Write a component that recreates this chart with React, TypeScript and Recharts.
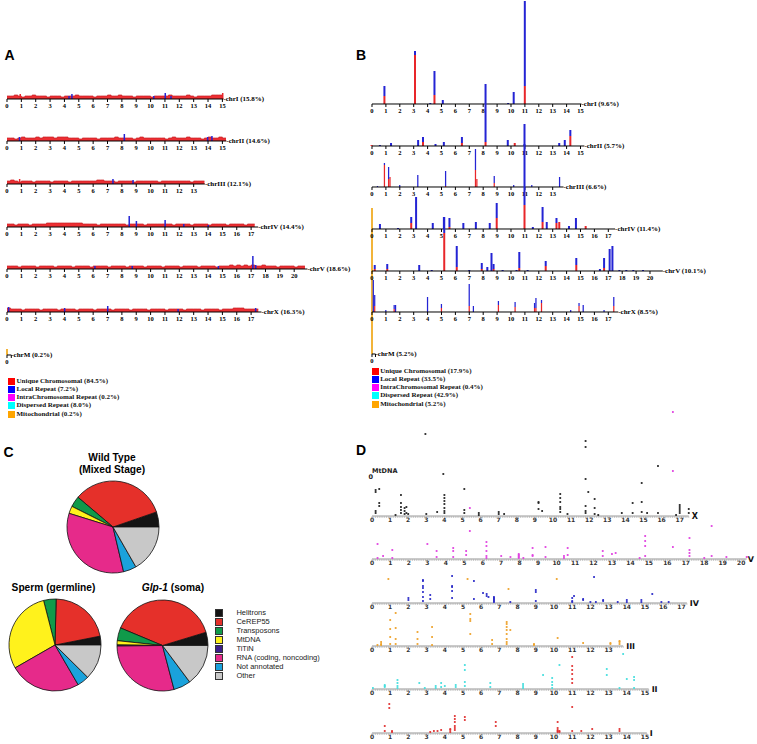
import React from 'react';
import { ComposedChart, Bar, Area, XAxis, YAxis, ReferenceDot, ScatterChart, Scatter, PieChart, Pie, Cell } from 'recharts';

const SERIF = '"Liberation Serif", "Times New Roman", serif';
const SANS = '"Liberation Sans", Arial, sans-serif';
const DSANS = '"DejaVu Sans", sans-serif';

const RED = '#e8262a';
const BLUE = '#2424d4';
const MITO = '#f2b43a';

// ---------- Panel A data ----------
const chromLen = [15.07, 15.28, 13.78, 17.49, 20.92, 17.72];
const aLabels = ['chrI (15.8%)', 'chrII (14.6%)', 'chrIII (12.1%)', 'chrIV (14.4%)', 'chrV (18.6%)', 'chrX (16.3%)'];
const aBandI = '3343233433323332333433332333433433323333233334333343233334443';
const aBandII = '33234333434443444333233332333343333234333333234333433323433433';
const aBandIII = '34323332333323333233333334433323333233333323333333323333';
const aBandIV = '3323332333344444444443333233333332333323333333233332333323333233332333';
const aBandV = '333233332333323333233332333323333233332333323333233332333323334343434334333233332333';
const aBandX = '43332333323333233332333323333233332333323333233332333323333233344433333';
const aSpikeI = [{ pos: 0.9, red: 5, blue: 0 }, { pos: 4.3, red: 0, blue: 3 }, { pos: 4.5, red: 0, blue: 5 }, { pos: 10.2, red: 0, blue: 3 }, { pos: 11, red: 0, blue: 6 }, { pos: 11.4, red: 0, blue: 3 }, { pos: 15, red: 6, blue: 0 }];
const aSpikeII = [{ pos: 0.9, red: 0, blue: 4 }, { pos: 8.2, red: 0, blue: 7 }, { pos: 14, red: 0, blue: 4 }, { pos: 14.3, red: 0, blue: 5 }];
const aSpikeIII = [{ pos: 0.9, red: 5, blue: 0 }, { pos: 7.4, red: 0, blue: 5 }, { pos: 8.8, red: 0, blue: 4 }];
const aSpikeIV = [{ pos: 8.5, red: 0, blue: 11 }, { pos: 9, red: 0, blue: 6 }, { pos: 11, red: 0, blue: 7 }, { pos: 12.3, red: 0, blue: 3 }, { pos: 14, red: 0, blue: 2 }];
const aSpikeV = [{ pos: 6.1, red: 0, blue: 3 }, { pos: 8.7, red: 0, blue: 3 }, { pos: 14.7, red: 0, blue: 3 }, { pos: 17.1, red: 0, blue: 13 }, { pos: 17.3, red: 0, blue: 4 }, { pos: 17.7, red: 3, blue: 0 }];
const aSpikeX = [{ pos: 0.1, red: 0, blue: 5 }, { pos: 4, red: 0, blue: 4 }, { pos: 7, red: 0, blue: 6 }, { pos: 11.9, red: 0, blue: 3 }, { pos: 17.3, red: 0, blue: 4 }];
const aMito = [{ pos: 0, mito: 6 }];

// ---------- Panel B data ----------
const bLabels = ['chrI (9.6%)', 'chrII (5.7%)', 'chrIII (6.6%)', 'chrIV (11.4%)', 'chrV (10.1%)', 'chrX (8.5%)'];
const bBarsI = [{ pos: 0.9, red: 8, blue: 10 }, { pos: 3.1, red: 49, blue: 4 }, { pos: 4.2, red: 0, blue: 1 }, { pos: 4.5, red: 9, blue: 24 }, { pos: 5.1, red: 0, blue: 4 }, { pos: 9.8, red: 0, blue: 1 }, { pos: 10.2, red: 0, blue: 12 }, { pos: 11, red: 18, blue: 85 }];
const bBarsII = [{ pos: 0, red: 1, blue: 0 }, { pos: 0.6, red: 0, blue: 1 }, { pos: 1.4, red: 0, blue: 3 }, { pos: 3.35, red: 0, blue: 6 }, { pos: 3.7, red: 4, blue: 5 }, { pos: 4.6, red: 0, blue: 2 }, { pos: 5.2, red: 0, blue: 4 }, { pos: 6.5, red: 3, blue: 6 }, { pos: 8.2, red: 4, blue: 58 }, { pos: 9.8, red: 0, blue: 6 }, { pos: 10.3, red: 3, blue: 0 }, { pos: 11, red: 0, blue: 2 }, { pos: 13.5, red: 0, blue: 3 }, { pos: 13.9, red: 0, blue: 6 }, { pos: 14.3, red: 10, blue: 6 }];
const bBarsIII = [{ pos: 0.4, red: 0, blue: 1 }, { pos: 0.9, red: 22, blue: 2 }, { pos: 1.2, red: 8, blue: 12 }, { pos: 1.3, red: 10, blue: 0 }, { pos: 2, red: 0, blue: 2 }, { pos: 3.3, red: 0, blue: 12 }, { pos: 5.3, red: 1, blue: 15 }, { pos: 7.45, red: 17, blue: 21 }, { pos: 7.55, red: 8, blue: 0 }, { pos: 8.8, red: 4, blue: 7 }, { pos: 10.2, red: 0, blue: 2 }, { pos: 11.5, red: 0, blue: 2 }, { pos: 13.5, red: 0, blue: 10 }];
const bBarsIV = [{ pos: 0.6, red: 0, blue: 5 }, { pos: 1.9, red: 0, blue: 1 }, { pos: 2.85, red: 6, blue: 6 }, { pos: 3.2, red: 0, blue: 32 }, { pos: 4.4, red: 0, blue: 6 }, { pos: 5.2, red: 0, blue: 12 }, { pos: 5.6, red: 2, blue: 9 }, { pos: 6.6, red: 0, blue: 6 }, { pos: 7.5, red: 0, blue: 7 }, { pos: 8.5, red: 0, blue: 6 }, { pos: 9, red: 11, blue: 15 }, { pos: 11, red: 24, blue: 81 }, { pos: 11.6, red: 0, blue: 2 }, { pos: 12.3, red: 7, blue: 15 }, { pos: 12.6, red: 0, blue: 7 }, { pos: 13.3, red: 6, blue: 5 }, { pos: 13.5, red: 7, blue: 0 }, { pos: 14.2, red: 0, blue: 3 }, { pos: 14.7, red: 0, blue: 11 }, { pos: 15.4, red: 3, blue: 0 }];
const bBarsV = [{ pos: 0.2, red: 2, blue: 4 }, { pos: 1.1, red: 2, blue: 5 }, { pos: 3.4, red: 0, blue: 6 }, { pos: 4.3, red: 0, blue: 1 }, { pos: 5.2, red: 38, blue: 16 }, { pos: 6.1, red: 4, blue: 21 }, { pos: 7, red: 0, blue: 1 }, { pos: 7.9, red: 2, blue: 6 }, { pos: 8.3, red: 0, blue: 4 }, { pos: 8.6, red: 0, blue: 18 }, { pos: 8.75, red: 2, blue: 5 }, { pos: 9.4, red: 0, blue: 1 }, { pos: 10.4, red: 0, blue: 1 }, { pos: 10.6, red: 3, blue: 16 }, { pos: 11.2, red: 0, blue: 1 }, { pos: 12.5, red: 5, blue: 5 }, { pos: 14.7, red: 6, blue: 7 }, { pos: 16.4, red: 0, blue: 2 }, { pos: 16.7, red: 3, blue: 10 }, { pos: 17.1, red: 0, blue: 22 }, { pos: 17.3, red: 0, blue: 25 }, { pos: 17.8, red: 0, blue: 1 }, { pos: 18.3, red: 0, blue: 1 }, { pos: 18.8, red: 0, blue: 1 }, { pos: 19.5, red: 0, blue: 1 }];
const bBarsX = [{ pos: 0.1, red: 0, blue: 32 }, { pos: 0.2, red: 6, blue: 11 }, { pos: 1, red: 0, blue: 2 }, { pos: 1.6, red: 3, blue: 4 }, { pos: 1.7, red: 0, blue: 7 }, { pos: 4, red: 0, blue: 15 }, { pos: 5, red: 4, blue: 4 }, { pos: 7, red: 6, blue: 22 }, { pos: 7.3, red: 0, blue: 6 }, { pos: 9.1, red: 7, blue: 4 }, { pos: 10.3, red: 5, blue: 5 }, { pos: 11.7, red: 4, blue: 5 }, { pos: 11.8, red: 4, blue: 10 }, { pos: 12.2, red: 9, blue: 3 }, { pos: 14.3, red: 0, blue: 2 }, { pos: 14.9, red: 6, blue: 3 }, { pos: 15.2, red: 0, blue: 7 }, { pos: 16.7, red: 0, blue: 2 }, { pos: 17.4, red: 6, blue: 9 }];
const bMito = [{ pos: 0, mito: 146 }];

const legendColors = ['#ff0000', '#0000ff', '#ff00ff', '#00ffff', '#ffa500'];
const aLegend = ['Unique Chromosomal (84.5%)', 'Local Repeat (7.2%)', 'IntraChromosomal Repeat (0.2%)', 'Dispersed Repeat (8.0%)', 'Mitochondrial (0.2%)'];
const bLegend = ['Unique Chromosomal (17.9%)', 'Local Repeat (33.5%)', 'IntraChromosomal Repeat (0.4%)', 'Dispersed Repeat (42.9%)', 'Mitochondrial (5.2%)'];

// ---------- Panel C data ----------
const pieCategories = ['Helitrons', 'CeREP55', 'Transposons', 'MtDNA', 'TiTiN', 'RNA (coding, noncoding)', 'Not annotated', 'Other'];
const pieColors = ['#141414', '#e5302a', '#109a4a', '#fff21c', '#3b1f8c', '#e62a8a', '#1aa2dc', '#c8c8c8'];
const wildType = [5.3, 33.5, 3.8, 2.6, 0, 33.5, 4.6, 16.7];
const sperm = [3.1, 21.5, 4.4, 29.3, 0, 25.1, 4.2, 12.4];
const glp1 = [4.7, 39.0, 4.6, 1.5, 0.4, 28.9, 6.1, 14.8];

// ---------- Panel D data ([position Mb, heights]) ----------
const dX: [number, number[]][] = [[0.2, [26, 24, 5, 3]], [0.4, [27, 13, 10]], [1.3, [1]], [1.6, [21, 13, 9, 6, 3]], [1.8, [8, 5, 2]], [1.9, [9, 3]], [2.0, [2]], [2.95, [82]], [3.0, [2]], [3.6, [4]], [3.94, [42]], [4.0, [21, 18, 15, 12, 8, 5, 3]], [5.1, [27, 6, 3]], [5.9, [3, 1]], [7.0, [4, 2]], [7.3, [2]], [9.2, [14, 13, 7]], [9.4, [5]], [10.4, [22, 18, 14, 9, 7, 4]], [10.8, [2]], [11.8, [75, 69, 37, 10, 5, 3]], [11.95, [24]], [12.3, [17, 8, 2]], [12.5, [1]], [13.8, [3]], [14.4, [13, 3]], [14.9, [33, 14, 4]], [15.2, [3]], [15.8, [50, 3]], [16.8, [1]], [17.0, [11, 9, 7, 5, 3]], [17.5, [7, 3]]];
const dV: [number, number[]][] = [[0.3, [15, 1]], [0.6, [3]], [1.1, [9, 1]], [3.0, [15]], [3.5, [8, 2]], [4.4, [11, 8, 2]], [5.1, [8, 4]], [5.3, [51, 28]], [6.2, [17, 13, 8, 3, 1]], [7.0, [3]], [7.5, [2]], [7.95, [5, 4, 3, 2, 1]], [8.2, [1]], [8.7, [11, 4, 3]], [9.4, [12, 2]], [10.4, [3, 1]], [10.6, [11, 4]], [12.5, [8, 3]], [13.0, [5]], [13.2, [6]], [14.5, [1]], [14.8, [23, 18, 13, 3]], [16.3, [147, 88, 12]], [17.2, [21, 9, 6, 3]], [18.0, [1]], [18.4, [33, 3]], [19.2, [2]], [20.3, [2]]];
const dIV: [number, number[]][] = [[2.0, [5, 3]], [2.8, [23, 22, 17, 15, 11, 6, 2]], [3.2, [8, 4]], [4.4, [27, 17, 16, 12, 5]], [5.6, [22, 4]], [6.1, [10]], [6.3, [9, 7]], [6.4, [6]], [6.7, [6, 5, 4, 3, 2, 1]], [7.6, [1]], [9.0, [13, 11, 2]], [11.0, [5, 2, 1]], [11.1, [7]], [11.6, [4, 3]], [12.0, [1]], [12.2, [26]], [12.3, [1]], [12.7, [3, 2]], [13.5, [1]], [14.0, [3, 1]], [14.8, [3, 1]], [15.4, [9]], [15.9, [1]], [16.3, [1]]];
const dIII: [number, number[]][] = [[0.3, [1]], [0.5, [4, 2, 1]], [0.9, [67]], [1.0, [26, 17, 9, 2]], [1.3, [33, 18, 7, 2]], [2.5, [14, 7, 2]], [3.3, [19, 9, 1]], [5.25, [67]], [5.4, [32, 27, 25, 12]], [6.6, [6, 2]], [7.4, [24, 22, 19, 16, 12, 7, 4, 2]], [7.5, [57]], [7.6, [16]], [8.9, [2, 1]], [10.15, [67]], [10.2, [8]], [11.6, [3]], [13.1, [3, 2]], [13.6, [5, 4, 2]]];
const dII: [number, number[]][] = [[0.05, [1]], [0.7, [4, 3, 2]], [1.4, [9, 6, 3, 1]], [2.6, [6]], [2.9, [1]], [3.5, [3, 1]], [3.8, [6, 2]], [4.0, [3]], [4.6, [4, 2]], [5.1, [24, 19, 7, 3]], [6.5, [6, 2]], [8.3, [5, 3, 1]], [9.4, [14]], [9.9, [11, 7, 4, 1]], [10.3, [24]], [12.9, [20, 14]], [13.6, [1]], [13.8, [35]], [14.0, [10]], [14.4, [12, 9, 1]]];
const dI: [number, number[]][] = [[0.7, [7, 2]], [0.95, [29, 25]], [1.1, [2, 1]], [3.2, [1]], [3.4, [2]], [3.6, [2]], [3.8, [3]], [4.3, [4, 3, 1]], [4.55, [17, 14, 11, 7, 5, 3]], [5.1, [16, 13]], [6.8, [11, 7]], [10.2, [11, 5, 3, 2, 1]], [10.3, [2, 1]], [11.0, [76, 67, 63, 59, 54, 50, 26, 2]], [11.5, [2]], [12.1, [4]], [13.6, [4, 2]]];
const dNames = ['X', 'V', 'IV', 'III', 'II', 'I'];
const dLens = [17.5, 20.2, 17.3, 13.8, 15.2, 15.1];
const dColors = ['#222222', '#e040e0', '#2a2ac8', '#eea22a', '#44dede', '#e03030'];

// ---------- helpers ----------
const bandData = (s: string, len: number) =>
  s.split('').map((c, i) => ({ pos: i * 0.25, band: Number(c) })).filter((d) => d.pos <= len);
const intTicks = (len: number) => {
  const t: number[] = [];
  for (let i = 0; i <= Math.floor(len); i++) t.push(i);
  return t;
};
const minorTicks = (len: number) => {
  const t: number[] = [];
  for (let i = 0; i <= Math.floor(len * 10 + 1e-6); i++) t.push(i / 10);
  return t;
};
const flatPts = (arr: [number, number[]][]) => arr.flatMap(([pos, hs]) => hs.map((h) => ({ pos, h })));

type BarSpec = { key: string; color: string; size: number };

function BarTrack(props: {
  x0: number; axisY: number; ppm: number; len: number; H: number; data: any[]; bars: BarSpec[];
  ticks: number[]; label?: string; showAxis: boolean; band?: boolean;
}) {
  const { x0, axisY, ppm, len, H, data, bars, ticks, label, showAxis, band } = props;
  const L = 8, R = 80, AX = 14;
  const w = L + len * ppm + R;
  const h = H + AX;
  return (
    <div style={{ position: 'absolute', left: x0 - L, top: axisY - H, width: w, height: h }}>
      <ComposedChart width={w} height={h} data={data} margin={{ top: 0, right: R, left: L, bottom: 0 }}>
        <XAxis
          type="number" dataKey="pos" domain={[0, len]} ticks={ticks} interval={0} height={AX} stroke="#000"
          axisLine={showAxis ? { stroke: '#000', strokeWidth: 1 } : false}
          tickLine={showAxis ? { stroke: '#000', strokeWidth: 1 } : false}
          tick={showAxis ? { fontSize: 6.5, fontFamily: SERIF, fontWeight: 700, fill: '#000' } : false}
          tickSize={3} tickMargin={1.5}
          tickFormatter={(v: number) => (Number.isInteger(v) ? String(v) : '')}
        />
        <YAxis hide type="number" domain={[0, H]} allowDataOverflow />
        {band ? (
          <Area type="stepAfter" dataKey="band" fill="#ec2f33" fillOpacity={1} stroke="#c81e22" strokeWidth={0.7} isAnimationActive={false} />
        ) : null}
        {bars.map((b) => (
          <Bar key={b.key} dataKey={b.key} stackId="s" fill={b.color} barSize={b.size} isAnimationActive={false} />
        ))}
        {label ? (
          <ReferenceDot x={len} y={0} r={0} fill="none" stroke="none" ifOverflow="visible"
            label={{ value: label, position: 'right', offset: 0, fill: '#000', fontSize: 7, fontFamily: SERIF, fontWeight: 700 }} />
        ) : null}
      </ComposedChart>
    </div>
  );
}

const DTick = (props: any) => {
  const { x, y, payload } = props;
  const v = payload.value;
  if (Math.abs(v - Math.round(v)) > 1e-6) return <g />;
  return (
    <text x={x} y={y} dy="0.71em" textAnchor="middle" fontSize={6} fontWeight={700} fontFamily={DSANS} fill="#333">
      {Math.round(v)}
    </text>
  );
};

function DotTrack(props: { axisY: number; ppm: number; len: number; pts: { pos: number; h: number }[]; color: string; name: string }) {
  const { axisY, ppm, len, pts, color, name } = props;
  const x0 = 371.7;
  const L = 8, R = 30, AX = 10, H = 150;
  const w = L + len * ppm + R;
  const h = H + AX;
  return (
    <div style={{ position: 'absolute', left: x0 - L, top: axisY - H, width: w, height: h }}>
      <ScatterChart width={w} height={h} margin={{ top: 0, right: R, left: L, bottom: 0 }}>
        <XAxis type="number" dataKey="pos" domain={[0, len]} ticks={minorTicks(len)} interval={0} height={AX}
          axisLine={{ stroke: '#9a9a9a', strokeWidth: 1 }} tickLine={{ stroke: '#a8a8a8', strokeWidth: 0.6 }}
          tickSize={2} tickMargin={0} tick={<DTick />} />
        <YAxis hide type="number" dataKey="h" domain={[0, H]} allowDataOverflow />
        <Scatter data={pts} fill={color} isAnimationActive={false}
          shape={(p: any) => <rect x={p.cx - 0.9} y={p.cy - 0.9} width={1.8} height={1.8} fill={color} />} />
        <ReferenceDot x={len} y={0} r={0} fill="none" stroke="none" ifOverflow="visible"
          label={{ value: name, position: 'right', offset: 3, fill: '#111', fontSize: 8, fontFamily: DSANS, fontWeight: 700 }} />
      </ScatterChart>
    </div>
  );
}

function PieBlock(props: { cx: number; cy: number; r: number; values: number[] }) {
  const { cx, cy, r, values } = props;
  const data = values.map((v, i) => ({ name: pieCategories[i], value: v }));
  const s = 2 * r + 6;
  return (
    <div style={{ position: 'absolute', left: cx - r - 3, top: cy - r - 3, width: s, height: s }}>
      <PieChart width={s} height={s} margin={{ top: 0, right: 0, left: 0, bottom: 0 }}>
        <Pie data={data} dataKey="value" cx={r + 3} cy={r + 3} outerRadius={r} innerRadius={0}
          startAngle={0} endAngle={360} stroke="#111" strokeWidth={0.8} isAnimationActive={false}>
          {data.map((d, i) => <Cell key={d.name} fill={pieColors[i]} />)}
        </Pie>
      </PieChart>
    </div>
  );
}

const Txt = (p: { x: number; y: number; size: number; children: React.ReactNode; font?: string; weight?: number; color?: string; anchor?: 'start' | 'middle'; italic?: boolean }) => (
  <div style={{
    position: 'absolute', left: p.anchor === 'middle' ? p.x - 100 : p.x, top: p.y - p.size * 0.6,
    width: p.anchor === 'middle' ? 200 : undefined, textAlign: p.anchor === 'middle' ? 'center' : 'left',
    fontSize: p.size, lineHeight: `${p.size * 1.2}px`, fontFamily: p.font || SANS, fontWeight: p.weight ?? 400,
    color: p.color || '#000', whiteSpace: 'nowrap', fontStyle: p.italic ? 'italic' : 'normal',
  }}>{p.children}</div>
);

function SmallLegend(props: { x: number; y0: number; labels: string[] }) {
  return (
    <>
      {props.labels.map((l, i) => (
        <div key={l} style={{ position: 'absolute', left: props.x, top: props.y0 + i * 8.33 - 3.5, height: 7, display: 'flex', alignItems: 'center' }}>
          <div style={{ width: 7, height: 7, background: legendColors[i] }} />
          <span style={{ marginLeft: 1.5, fontFamily: SERIF, fontWeight: 700, fontSize: 7, lineHeight: '7px', color: '#111', whiteSpace: 'nowrap' }}>{l}</span>
        </div>
      ))}
    </>
  );
}

export default function App() {
  const aBands = [aBandI, aBandII, aBandIII, aBandIV, aBandV, aBandX];
  const aSpikes = [aSpikeI, aSpikeII, aSpikeIII, aSpikeIV, aSpikeV, aSpikeX];
  const aAxisY = [99, 141, 184, 227, 269, 312];
  const bBars = [bBarsI, bBarsII, bBarsIII, bBarsIV, bBarsV, bBarsX];
  const bAxisY = [104, 146, 187, 229, 271, 312];
  const dPts = [dX, dV, dIV, dIII, dII, dI];
  const dAxisY = [516, 559.3, 602.7, 645.7, 689, 733.3];
  const dPpm = [18.1, 18.55, 18.2, 18.2, 18.2, 18.2];
  const spikeBars: BarSpec[] = [{ key: 'red', color: RED, size: 1.5 }, { key: 'blue', color: BLUE, size: 1.5 }];
  const bBarSpec: BarSpec[] = [{ key: 'red', color: RED, size: 2 }, { key: 'blue', color: BLUE, size: 2 }];

  return (
    <div style={{ position: 'absolute', left: 0, top: 0, width: 757, height: 744, background: '#fff', overflow: 'hidden' }}>
      {/* Panel letters */}
      <Txt x={4.5} y={55} size={14} weight={700}>A</Txt>
      <Txt x={356} y={55} size={14} weight={700}>B</Txt>
      <Txt x={3.5} y={452} size={14} weight={700}>C</Txt>
      <Txt x={356} y={450} size={14} weight={700}>D</Txt>

      {/* Panel A */}
      {chromLen.map((len, i) => (
        <React.Fragment key={'a' + i}>
          <BarTrack x0={7.3} axisY={aAxisY[i]} ppm={14.36} len={len} H={16} data={bandData(aBands[i], len)}
            bars={[]} band ticks={intTicks(len)} showAxis={false} />
          <BarTrack x0={7.3} axisY={aAxisY[i]} ppm={14.36} len={len} H={16} data={aSpikes[i]}
            bars={spikeBars} ticks={intTicks(len)} showAxis label={'-' + aLabels[i]} />
        </React.Fragment>
      ))}
      <BarTrack x0={7.3} axisY={355} ppm={14.36} len={0.3} H={16} data={aMito}
        bars={[{ key: 'mito', color: MITO, size: 2 }]} ticks={[0, 0.3]} showAxis label="-chrM (0.2%)" />
      <SmallLegend x={8} y0={381} labels={aLegend} />

      {/* Panel B */}
      <BarTrack x0={371.7} axisY={354} ppm={13.9} len={0.25} H={150} data={bMito}
        bars={[{ key: 'mito', color: MITO, size: 2 }]} ticks={[0, 0.25]} showAxis label="-chrM (5.2%)" />
      {chromLen.map((len, i) => (
        <BarTrack key={'b' + i} x0={371.7} axisY={bAxisY[i]} ppm={13.9} len={len} H={110} data={bBars[i]}
          bars={bBarSpec} ticks={intTicks(len)} showAxis label={'-' + bLabels[i]} />
      ))}
      <SmallLegend x={371.7} y0={371} labels={bLegend} />

      {/* Panel C */}
      <Txt x={112} y={458} size={10.2} weight={700} anchor="middle">Wild Type</Txt>
      <Txt x={112} y={470.3} size={10.2} weight={700} anchor="middle">(Mixed Stage)</Txt>
      <PieBlock cx={113} cy={527} r={46} values={wildType} />
      <Txt x={53.5} y={588} size={10.2} weight={700} anchor="middle">Sperm (germline)</Txt>
      <div style={{ position: 'absolute', left: 73, top: 588 - 6.1, width: 200, textAlign: 'center', fontFamily: SANS, fontWeight: 700, fontSize: 10.2, lineHeight: '12.2px', whiteSpace: 'nowrap' }}>
        <i>Glp-1</i> (soma)
      </div>
      <PieBlock cx={55} cy={645} r={46} values={sperm} />
      <PieBlock cx={162.7} cy={645} r={45.5} values={glp1} />
      {pieCategories.map((c, i) => (
        <div key={c} style={{ position: 'absolute', left: 215, top: 612.7 + i * 9 - 3.5, height: 7, display: 'flex', alignItems: 'center' }}>
          <div style={{ width: 6.4, height: 6.4, background: pieColors[i], border: '0.6px solid #333' }} />
          <span style={{ marginLeft: 13, fontFamily: SANS, fontSize: 7.5, lineHeight: '7px', color: '#222', whiteSpace: 'nowrap' }}>{c}</span>
        </div>
      ))}

      {/* Panel D */}
      {dNames.map((n, i) => (
        <DotTrack key={n} axisY={dAxisY[i]} ppm={dPpm[i]} len={dLens[i]} pts={flatPts(dPts[i])} color={dColors[i]} name={n} />
      ))}
      <Txt x={372} y={472} size={6.5} weight={700} font={DSANS} color="#222">MtDNA</Txt>
      <Txt x={368.5} y={477.5} size={6.5} weight={700} font={DSANS} color="#222">0</Txt>
    </div>
  );
}
